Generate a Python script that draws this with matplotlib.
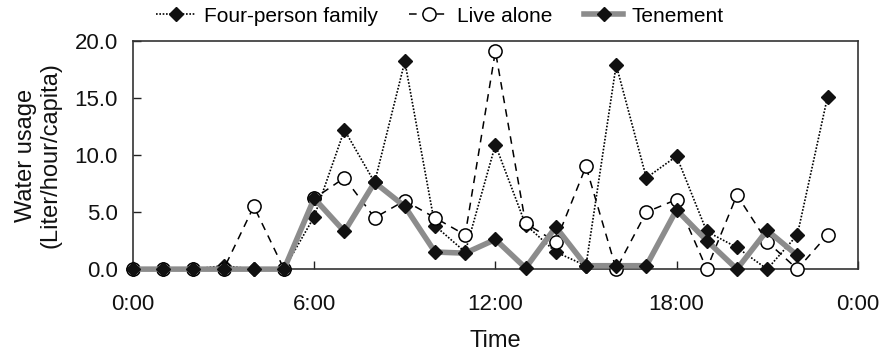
import matplotlib
matplotlib.use("Agg")
import matplotlib.pyplot as plt

plt.rcParams['font.family'] = ['Liberation Sans', 'DejaVu Sans']

hours = list(range(24))
four_person = [0, 0, 0, 0.3, 0, 0, 4.6, 12.2, 7.6, 18.2, 3.8, 1.5, 10.9, 3.9,
               1.5, 0.3, 17.9, 8.0, 9.9, 3.3, 1.9, 0.0, 3.0, 15.1]
live_alone = [0, 0, 0, 0, 5.5, 0, 6.2, 8.0, 4.5, 6.0, 4.5, 3.0, 19.1, 4.0,
              2.4, 9.0, 0.0, 5.0, 6.1, 0.0, 6.5, 2.4, 0.0, 3.0]
tenement_hours = list(range(23))
tenement = [0, 0, 0, 0, 0, 0, 6.2, 3.3, 7.6, 5.5, 1.5, 1.4, 2.6, 0.1,
            3.7, 0.3, 0.3, 0.3, 5.2, 2.5, 0.0, 3.4, 1.2]

xticks = [0, 6, 12, 18, 24]
xtick_labels = ["0:00", "6:00", "12:00", "18:00", "0:00"]
yticks = [0, 5, 10, 15, 20]

fig = plt.figure(figsize=(8.87, 3.56), dpi=100)
ax = fig.add_axes([0.150, 0.244, 0.817, 0.641])

ax.plot(hours, four_person, linestyle=(0, (1, 1)), color='black', linewidth=1.2,
        marker='D', markersize=7, markerfacecolor='#111111', markeredgecolor='#111111',
        label='Four-person family', zorder=3, clip_on=False)
ax.plot(hours, live_alone, linestyle=(0, (5, 4)), color='black', linewidth=1.1,
        marker='o', markersize=9.5, markerfacecolor='white', markeredgecolor='black',
        markeredgewidth=1.1, label='Live alone', zorder=4, clip_on=False)
ax.plot(tenement_hours, tenement, linestyle='-', color='#8c8c8c', linewidth=4,
        marker='D', markersize=7.5, markerfacecolor='#111111', markeredgecolor='#111111',
        label='Tenement', zorder=5, clip_on=False)

ax.set_xlim(0, 24)
ax.set_ylim(0, 20)
ax.set_xticks(xticks)
ax.set_xticklabels(xtick_labels)
ax.set_yticks(yticks)
ax.set_yticklabels([f"{v:.1f}" for v in yticks])
ax.tick_params(axis='both', direction='in', length=6, width=1, labelsize=16,
               top=False, right=False, colors='#222222', labelcolor='#111111')
ax.tick_params(axis='x', pad=18)
ax.tick_params(axis='y', pad=11)
for sp in ax.spines.values():
    sp.set_linewidth(1.2)
    sp.set_color('#333333')

ax.set_xlabel('Time', fontsize=17, labelpad=11, color='#111111')
ax.set_ylabel('Water usage\n(Liter/hour/capita)', fontsize=17, labelpad=9,
              color='#111111', linespacing=1.15)

fig.legend(loc='center', bbox_to_anchor=(440 / 887, 0.955), ncol=3, frameon=False,
           fontsize=15, handlelength=1.9, columnspacing=1.5, handletextpad=0.4,
           borderaxespad=0.0, borderpad=0.0)

fig.savefig('out.png', dpi=100)
